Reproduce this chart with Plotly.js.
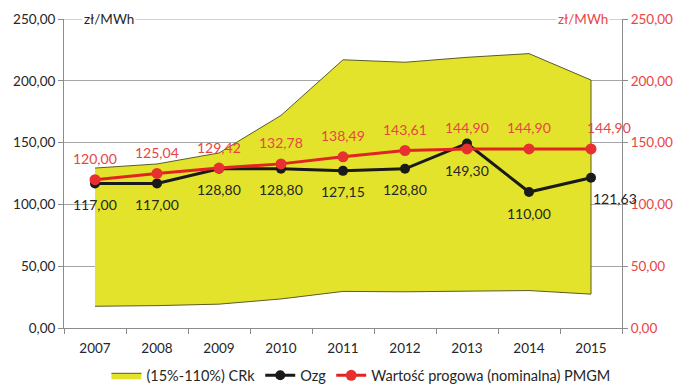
<!DOCTYPE html>
<html><head><meta charset="utf-8">
<script src="https://cdn.plot.ly/plotly-3.0.1.min.js"></script>
<style>html,body{margin:0;padding:0;background:#fff}#chart{width:681px;height:389px}</style>
</head><body><div id="chart"></div>
<script>
const years = ['2007','2008','2009','2010','2011','2012','2013','2014','2015'];
const crkUpper = [129.4, 132.7, 141.6, 172.0, 217.0, 215.0, 219.0, 222.0, 200.6];
const crkLower = [17.6, 18.1, 19.3, 23.5, 29.6, 29.3, 29.8, 30.3, 27.4];
const ozg = [117.00, 117.00, 128.80, 128.80, 127.15, 128.80, 149.30, 110.00, 121.63];
const pmgm = [120.00, 125.04, 129.42, 132.78, 138.49, 143.61, 144.90, 144.90, 144.90];
const yTicks = [0, 50, 100, 150, 200, 250];

const fmt = v => v.toFixed(2).replace('.', ',');
const font = 'Lato, "Liberation Sans", sans-serif';

const polyX = years.concat(years.slice().reverse());
const polyY = crkUpper.concat(crkLower.slice().reverse());

const traces = [
  {x: polyX, y: polyY, type: 'scatter', mode: 'lines', fill: 'toself',
   fillcolor: '#e3e32b', line: {color: '#5c5c28', width: 1},
   name: '(15%-110%) CRk', hoverinfo: 'skip'},
  {x: years, y: ozg, type: 'scatter', mode: 'lines+markers', name: 'Ozg',
   line: {color: '#1a1a1a', width: 3}, marker: {color: '#1a1a1a', size: 10}, cliponaxis: false},
  {x: years, y: pmgm, type: 'scatter', mode: 'lines+markers', name: 'Wartość progowa (nominalna) PMGM',
   line: {color: '#e02424', width: 3}, marker: {color: '#e83030', size: 11}, cliponaxis: false},
  {x: years, y: pmgm, type: 'scatter', mode: 'none', yaxis: 'y2', showlegend: false, hoverinfo: 'skip'}
];

const ann = [];
ozg.forEach((v, i) => {
  const last = i === ozg.length - 1;
  ann.push({x: i, y: v, xref: 'x', yref: 'y', text: fmt(v), showarrow: false,
    xshift: last ? 24 : 0, yshift: i === 6 ? -27 : -21,
    font: {color: '#262626', size: 14, family: font}});
});
pmgm.forEach((v, i) => {
  const last = i === pmgm.length - 1;
  ann.push({x: i, y: v, xref: 'x', yref: 'y', text: fmt(v), showarrow: false,
    xshift: last ? 18 : 0, yshift: 21,
    font: {color: '#e84545', size: 14, family: font}});
});
ann.push({xref: 'paper', yref: 'y', x: 0.08, y: 250, text: 'zł/MWh', showarrow: false,
  bgcolor: '#fff', font: {color: '#262626', size: 13.5}, xanchor: 'center', yanchor: 'middle'});
ann.push({xref: 'paper', yref: 'y', x: 0.93, y: 250, text: 'zł/MWh', showarrow: false,
  bgcolor: '#fff', font: {color: '#e84545', size: 13.5}, xanchor: 'center', yanchor: 'middle'});

const layout = {
  width: 681, height: 389,
  margin: {l: 64, r: 59, t: 19, b: 61},
  paper_bgcolor: '#fff', plot_bgcolor: '#fff',
  font: {family: font, size: 13.5, color: '#262626'},
  showlegend: true,
  legend: {orientation: 'h', x: 0.53, xanchor: 'center', xref: 'container',
           y: 0.035, yanchor: 'middle', yref: 'container',
           font: {size: 14.5, color: '#262626'}, traceorder: 'normal'},
  xaxis: {type: 'category', range: [-0.5, 8.5], showgrid: false, showline: true,
          linecolor: '#8c8c8c', linewidth: 1, ticks: 'outside', tickson: 'boundaries',
          ticklen: 5, tickcolor: '#8c8c8c', zeroline: false, fixedrange: true,
          ticklabelstandoff: 8},
  yaxis: {range: [0, 250], tickvals: yTicks, ticktext: yTicks.map(fmt), showgrid: true,
          gridcolor: '#a6a6a6', gridwidth: 1, showline: true, linecolor: '#8c8c8c',
          ticks: 'outside', ticklen: 5, tickcolor: '#8c8c8c', zeroline: false,
          tickfont: {color: '#262626'}},
  yaxis2: {range: [0, 250], overlaying: 'y', side: 'right', tickvals: yTicks,
           ticktext: yTicks.map(fmt), showgrid: false, showline: true, linecolor: '#8c8c8c',
           ticks: 'outside', ticklen: 5, tickcolor: '#8c8c8c', zeroline: false,
           tickfont: {color: '#e84545'}},
  shapes: [{type: 'line', xref: 'paper', yref: 'y', x0: 0, x1: 1, y0: 250, y1: 250,
            line: {color: '#a6a6a6', width: 1}, layer: 'below'}],
  annotations: ann
};

Plotly.newPlot('chart', traces, layout, {displayModeBar: false, staticPlot: true});
</script></body></html>
